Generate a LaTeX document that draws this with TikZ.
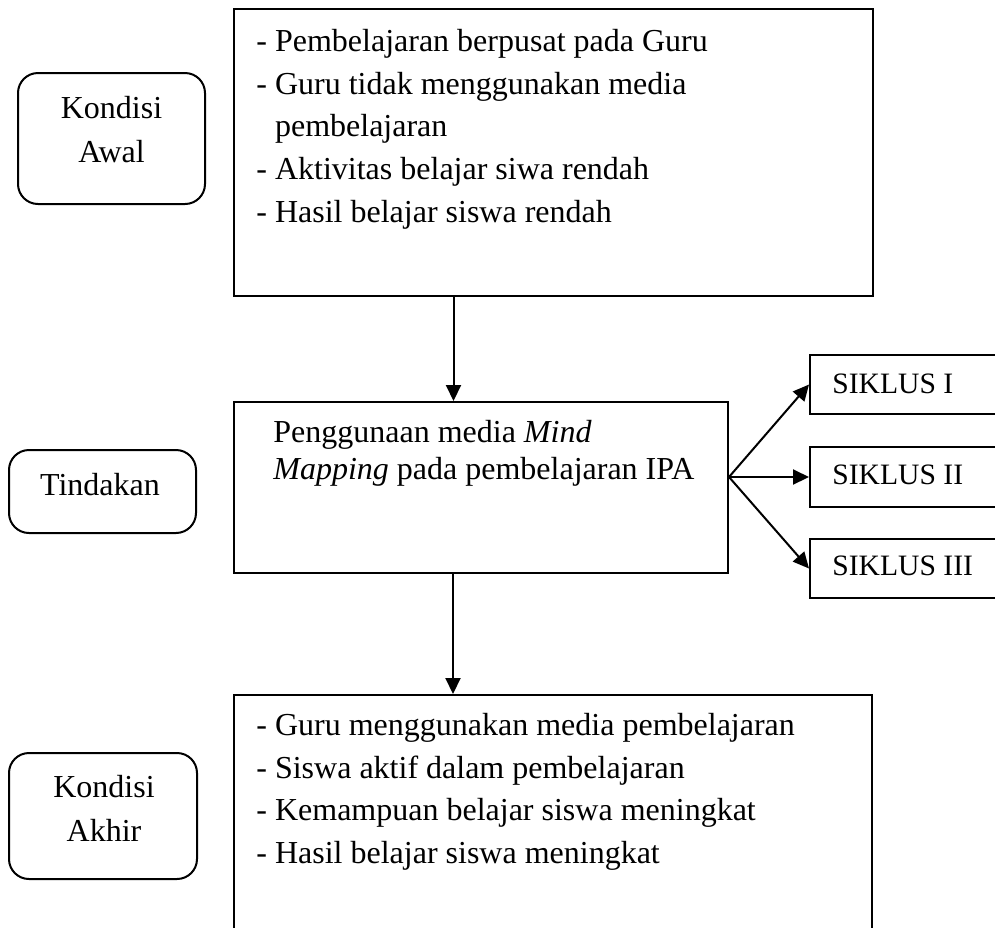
\documentclass[tikz,border=0pt]{standalone}
\usepackage{fontspec}
\setmainfont{Liberation Serif}
\usetikzlibrary{arrows.meta}

\begin{document}
\begin{tikzpicture}[x=0.5pt,y=-0.5pt,>={Triangle[length=8pt,width=7.5pt]},
  kotak/.style={draw,line width=1pt,inner sep=0pt},
  label/.style={draw,line width=1pt,rounded corners=10pt,inner sep=0pt},
  teks/.style={inner sep=0pt,align=left,font=\fontsize{16}{21.3}\selectfont},
  judul/.style={inner sep=0pt,align=center,font=\fontsize{16}{22}\selectfont}]

\useasboundingbox (0,0) rectangle (995,927);
\clip (0,0) rectangle (995,927);

% Kondisi awal
\node (lblawal) at (111.5,138.5) [label,minimum width=93.5pt,minimum height=65.5pt] {};
\node (tawal) at (111.5,96) [judul,anchor=north] {Kondisi\\Awal};

\node (awal) at (553.5,152.5) [kotak,minimum width=319.5pt,minimum height=143.5pt] {};
\node (isiawal) at (256,29) [teks,anchor=north west] {- Pembelajaran berpusat pada Guru\\
- Guru tidak menggunakan media\\
\phantom{- }pembelajaran\\
- Aktivitas belajar siwa rendah\\
- Hasil belajar siswa rendah};

% Tindakan
\node (lblaksi) at (102.5,491.5) [label,minimum width=93.5pt,minimum height=41.5pt] {};
\node (taksi) at (100,495) [judul,anchor=base] {Tindakan};

\node (aksi) at (481,487.5) [kotak,minimum width=247pt,minimum height=85.5pt] {};
\node (isiaksi) at (273,420) [teks,anchor=north west,font=\fontsize{16}{18.5}\selectfont]
  {Penggunaan media \textit{Mind}\\\textit{Mapping} pada pembelajaran IPA};

% Siklus
\node (siklus1) at (910,384.5) [kotak,minimum width=100pt,minimum height=29.5pt] {};
\node (siklus2) at (910,477) [kotak,minimum width=100pt,minimum height=30pt] {};
\node (siklus3) at (910,568.5) [kotak,minimum width=100pt,minimum height=29.5pt] {};
\node (ts1) at (832,393) [teks,anchor=base west,font=\fontsize{14.8}{18}\selectfont] {SIKLUS I};
\node (ts2) at (832,484) [teks,anchor=base west,font=\fontsize{14.8}{18}\selectfont] {SIKLUS II};
\node (ts3) at (832,575) [teks,anchor=base west,font=\fontsize{14.8}{18}\selectfont] {SIKLUS III};

% Kondisi akhir
\node (lblakhir) at (103,816) [label,minimum width=94pt,minimum height=63pt] {};
\node (takhir) at (104,775) [judul,anchor=north] {Kondisi\\Akhir};

\node (akhir) at (553,827.5) [kotak,minimum width=319pt,minimum height=132.5pt] {};
\node (isiakhir) at (256,713) [teks,anchor=north west] {- Guru menggunakan media pembelajaran\\
- Siswa aktif dalam pembelajaran\\
- Kemampuan belajar siswa meningkat\\
- Hasil belajar siswa meningkat};

% Panah
\draw[->,line width=1pt] ([xshift=-50pt]awal.south)--([xshift=-50pt]awal.south |- aksi.north);
\draw[->,line width=1pt] ([xshift=-14pt]aksi.south)--([xshift=-14pt]aksi.south |- akhir.north);

\coordinate (cabang) at ([yshift=5.25pt]aksi.east);
\draw[->,line width=1pt] (cabang)--(siklus1.west);
\draw[->,line width=1pt] (cabang)--(siklus2.west);
\draw[->,line width=1pt] (cabang)--(siklus3.west);

\end{tikzpicture}
\end{document}
